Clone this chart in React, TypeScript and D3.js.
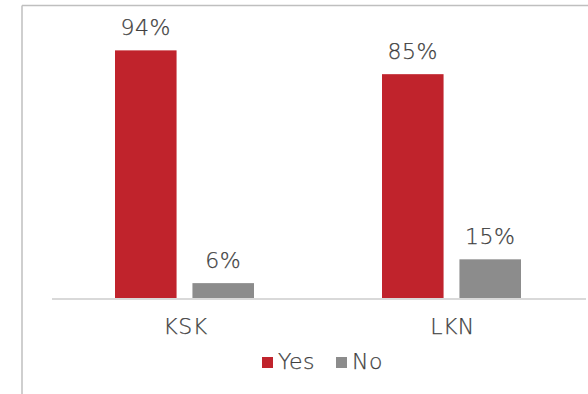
import React from "react";
import * as d3 from "d3";

const categories = ["KSK", "LKN"];
const series = ["Yes", "No"];
const yesValues = [94, 85];
const noValues = [6, 15];
const colors = ["#C0232C", "#8C8C8C"];

const W = 588;
const H = 394;

export default function App() {
  const values = [yesValues, noValues];
  const x0 = d3.scaleBand<string>().domain(categories).range([52, 586]).paddingInner(0).paddingOuter(0);
  const x1 = d3.scaleBand<string>().domain(series).range([63, 202]).paddingInner(0.205).paddingOuter(0);
  const y = d3.scaleLinear().domain([0, 100]).range([299, 34.5]);
  const font = "'DejaVu Sans', sans-serif";
  const textColor = "#3F3F3F";
  const fs = 22;
  const textProps = {
    fontFamily: font,
    fontSize: fs,
    fontWeight: 300,
    letterSpacing: 0.5,
    fill: textColor,
    stroke: textColor,
    strokeWidth: 0.25,
  };

  return (
    <svg width={W} height={H} style={{ position: "absolute", left: 0, top: 0, background: "#fff" }}>
      <rect x={0} y={0} width={W} height={H} fill="#fff" />
      <line x1={22} y1={5.5} x2={W} y2={5.5} stroke="#BFBFBF" strokeWidth={1.5} />
      <line x1={22} y1={5.5} x2={22} y2={H} stroke="#BFBFBF" strokeWidth={1.5} />
      {categories.map((c, ci) => (
        <g key={c}>
          {series.map((s, si) => {
            const v = values[si][ci];
            const bx = (x0(c) as number) + (x1(s) as number);
            const bw = x1.bandwidth();
            return (
              <g key={s}>
                <rect x={bx} y={y(v)} width={bw} height={y(0) - y(v)} fill={colors[si]} />
                <text x={bx + bw / 2} y={y(v) - 15} textAnchor="middle" {...textProps}>
                  {v}%
                </text>
              </g>
            );
          })}
          <text x={(x0(c) as number) + x0.bandwidth() / 2} y={334} textAnchor="middle" {...textProps}>
            {c}
          </text>
        </g>
      ))}
      <line x1={52} y1={299} x2={586} y2={299} stroke="#D9D9D9" strokeWidth={2} />
      {series.map((s, si) => {
        const lx = [262, 336][si];
        return (
          <g key={s}>
            <rect x={lx} y={357} width={11} height={11} fill={colors[si]} />
            <text x={lx + 16} y={369} {...textProps}>
              {s}
            </text>
          </g>
        );
      })}
    </svg>
  );
}
